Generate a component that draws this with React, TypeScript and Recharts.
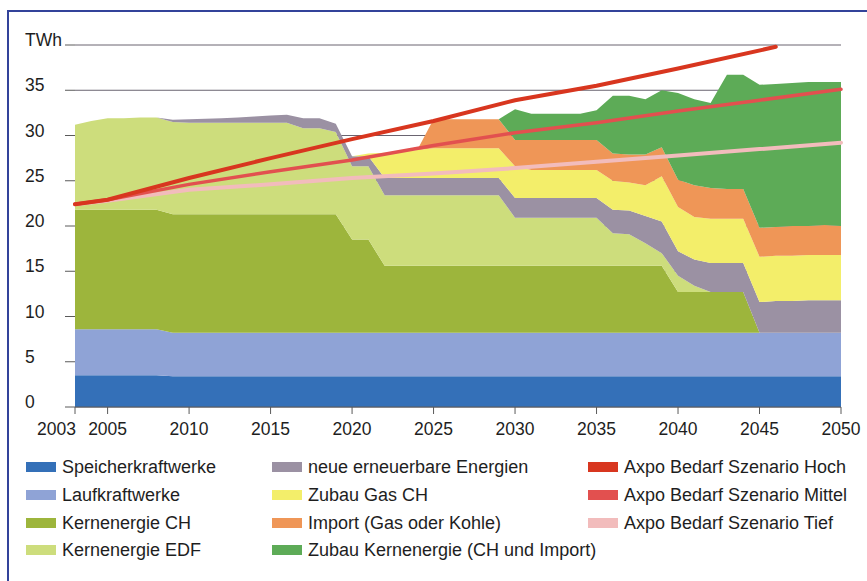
import React from "react";
import {
  ComposedChart,
  Area,
  Line,
  XAxis,
  YAxis,
  CartesianGrid,
} from "recharts";

// years on the x axis, one row per year
const years = Array.from({ length: 48 }, (_, i) => 2003 + i);
const xTicks = [2003, 2005, 2010, 2015, 2020, 2025, 2030, 2035, 2040, 2045, 2050];
const yTicks = [0, 5, 10, 15, 20, 25, 30, 35, 40];

// stacked layers in TWh (thickness of each band), 2003..2050
const speicher = [
  3.5, 3.5, 3.5, 3.5, 3.5, 3.5, 3.4, 3.4, 3.4, 3.4, // 2003-2012
  3.4, 3.4, 3.4, 3.4, 3.4, 3.4, 3.4, 3.4, 3.4, 3.4, // 2013-2022
  3.4, 3.4, 3.4, 3.4, 3.4, 3.4, 3.4, 3.4, 3.4, 3.4, // 2023-2032
  3.4, 3.4, 3.4, 3.4, 3.4, 3.4, 3.4, 3.4, 3.4, 3.4, // 2033-2042
  3.4, 3.4, 3.4, 3.4, 3.4, 3.4, 3.4, 3.4, // 2043-2050
];
const lauf = [
  5.1, 5.1, 5.1, 5.1, 5.1, 5.1, 4.8, 4.8, 4.8, 4.8,
  4.8, 4.8, 4.8, 4.8, 4.8, 4.8, 4.8, 4.8, 4.8, 4.8,
  4.8, 4.8, 4.8, 4.8, 4.8, 4.8, 4.8, 4.8, 4.8, 4.8,
  4.8, 4.8, 4.8, 4.8, 4.8, 4.8, 4.8, 4.8, 4.8, 4.8,
  4.8, 4.8, 4.8, 4.8, 4.8, 4.8, 4.8, 4.8,
];
const kernCH = [
  13.2, 13.2, 13.2, 13.2, 13.2, 13.2, 13.1, 13.1, 13.1, 13.1,
  13.1, 13.1, 13.1, 13.1, 13.1, 13.1, 13.1, 10.3, 10.3, 7.4,
  7.4, 7.4, 7.4, 7.4, 7.4, 7.4, 7.4, 7.4, 7.4, 7.4,
  7.4, 7.4, 7.4, 7.4, 7.4, 7.4, 7.4, 4.5, 4.5, 4.5,
  4.5, 4.5, 0, 0, 0, 0, 0, 0,
];
const kernEDF = [
  9.4, 9.8, 10.1, 10.1, 10.2, 10.2, 10.2, 10.1, 10.1, 10.1,
  10.1, 10.1, 10.1, 10.1, 9.5, 9.5, 9.1, 8.1, 8.1, 7.8,
  7.8, 7.8, 7.8, 7.8, 7.8, 7.8, 7.8, 5.3, 5.3, 5.3,
  5.3, 5.3, 5.3, 3.6, 3.5, 2.5, 1.4, 1.8, 0.7, 0,
  0, 0, 0, 0, 0, 0, 0, 0,
];
const neueErneuerbare = [
  0, 0, 0, 0, 0, 0, 0.25, 0.4, 0.45, 0.5,
  0.6, 0.7, 0.8, 0.9, 1.1, 1.1, 0.9, 1.1, 1.1, 1.9,
  1.9, 1.9, 1.9, 1.9, 1.9, 1.9, 1.9, 2.2, 2.2, 2.2,
  2.2, 2.2, 2.2, 2.6, 2.6, 3.0, 3.5, 2.7, 2.9, 3.2,
  3.2, 3.2, 3.4, 3.5, 3.5, 3.6, 3.6, 3.6,
];
const zubauGas = [
  0, 0, 0, 0, 0, 0, 0, 0, 0, 0,
  0, 0, 0, 0, 0, 0, 0, 0, 0.3, 2.8,
  2.9, 3.1, 3.3, 3.3, 3.3, 3.3, 3.3, 3.5, 3.1, 3.1,
  3.1, 3.1, 3.1, 3.2, 3.1, 3.4, 5.0, 4.9, 4.7, 4.9,
  4.9, 4.9, 5.0, 5.0, 5.0, 5.0, 5.0, 5.0,
];
const importGasKohle = [
  0, 0, 0, 0, 0, 0, 0, 0, 0, 0,
  0, 0, 0, 0, 0, 0, 0, 0, 0, 0,
  0, 0, 3.2, 3.2, 3.2, 3.2, 3.2, 2.9, 3.3, 3.3,
  3.3, 3.3, 3.3, 3.0, 3.1, 3.4, 3.2, 3.0, 3.5, 3.4,
  3.3, 3.3, 3.2, 3.2, 3.3, 3.2, 3.3, 3.2,
];
const zubauKern = [
  0, 0, 0, 0, 0, 0, 0, 0, 0, 0,
  0, 0, 0, 0, 0, 0, 0, 0, 0, 0,
  0, 0, 0, 0, 0, 0, 0, 3.4, 2.9, 2.9,
  2.9, 2.9, 3.3, 6.4, 6.5, 6.1, 6.3, 9.6, 9.5, 9.4,
  12.6, 12.6, 15.8, 15.8, 15.8, 15.9, 15.8, 15.9,
];

// demand scenarios (read at the kinks of each line)
const hochYears = [2003, 2005, 2010, 2015, 2020, 2025, 2030, 2035, 2040, 2046];
const hochValues = [22.4, 22.9, 25.3, 27.5, 29.6, 31.6, 33.9, 35.5, 37.4, 39.8];
const scenYears = [2003, 2005, 2010, 2015, 2020, 2025, 2030, 2035, 2040, 2045, 2050];
const mittelValues = [22.4, 22.9, 24.6, 26.0, 27.3, 28.9, 30.3, 31.4, 32.7, 33.9, 35.1];
const tiefValues = [22.4, 22.8, 24.0, 24.6, 25.3, 25.8, 26.4, 27.1, 27.8, 28.5, 29.2];

const areas = [
  { key: "speicher", name: "Speicherkraftwerke", color: "#3470b8", values: speicher },
  { key: "lauf", name: "Laufkraftwerke", color: "#8fa3d6", values: lauf },
  { key: "kernCH", name: "Kernenergie CH", color: "#9db53c", values: kernCH },
  { key: "kernEDF", name: "Kernenergie EDF", color: "#cddd7c", values: kernEDF },
  { key: "neue", name: "neue erneuerbare Energien", color: "#9b91a3", values: neueErneuerbare },
  { key: "gas", name: "Zubau Gas CH", color: "#f3ee6a", values: zubauGas },
  { key: "import", name: "Import (Gas oder Kohle)", color: "#ef9657", values: importGasKohle },
  { key: "zubauKern", name: "Zubau Kernenergie (CH und Import)", color: "#5dab57", values: zubauKern },
];

const lines = [
  { key: "tief", name: "Axpo Bedarf Szenario Tief", color: "#f2bcbc", width: 4, xs: scenYears, values: tiefValues },
  { key: "mittel", name: "Axpo Bedarf Szenario Mittel", color: "#e2504f", width: 3.5, xs: scenYears, values: mittelValues },
  { key: "hoch", name: "Axpo Bedarf Szenario Hoch", color: "#d8361f", width: 4, xs: hochYears, values: hochValues },
];

const data = years.map((year, i) => {
  const row: any = { year };
  areas.forEach((a) => (row[a.key] = a.values[i]));
  lines.forEach((l) => {
    const j = l.xs.indexOf(year);
    row[l.key] = j >= 0 ? l.values[j] : null;
  });
  return row;
});

// legend order: three columns as in the print
const legendEntries = [...areas, lines[2], lines[1], lines[0]];

const FONT = "'Liberation Sans', Arial, sans-serif";
const TEXT = "#1e1e1e";

function XTick(props: any) {
  const { x, y, payload } = props;
  const first = payload.value === 2003;
  return (
    <text
      x={first ? x + 1 : x}
      y={y}
      dy={19}
      textAnchor={first ? "end" : "middle"}
      fontSize={17.5}
      fontFamily={FONT}
      fill={TEXT}
    >
      {payload.value}
    </text>
  );
}

function YTick(props: any) {
  const { y, payload } = props;
  return (
    <text x={25} y={y} dy={1} textAnchor="start" fontSize={17.5} fontFamily={FONT} fill={TEXT}>
      {payload.value === 40 ? "TWh" : payload.value}
    </text>
  );
}

export default function App() {
  const legendX = [26, 272, 588];
  const legendY = [467, 495, 523, 550];
  return (
    <div
      style={{
        position: "absolute",
        left: 0,
        top: 0,
        width: 867,
        height: 581,
        overflow: "hidden",
        background: "#ffffff",
        fontFamily: FONT,
      }}
    >
      <div
        style={{
          position: "absolute",
          left: 7,
          top: 10,
          width: 900,
          height: 600,
          borderTop: "2px solid #33439a",
          borderLeft: "2px solid #33439a",
        }}
      />
      <div style={{ position: "absolute", left: 0, top: 0 }}>
        <ComposedChart
          width={867}
          height={581}
          data={data}
          margin={{ top: 45, right: 0, bottom: 144, left: 0 }}
        >
          <CartesianGrid vertical={false} stroke="#6a6470" strokeWidth={1} />
          <XAxis
            dataKey="year"
            type="number"
            domain={[2003, 2050]}
            ticks={xTicks}
            interval={0}
            height={30}
            tickSize={7}
            tickMargin={2}
            stroke="#5a5a5a"
            tick={<XTick />}
          />
          <YAxis
            type="number"
            domain={[0, 40]}
            ticks={yTicks}
            interval={0}
            width={75}
            tickSize={10}
            axisLine={false}
            stroke="#5a5a5a"
            tick={<YTick />}
          />
          <YAxis
            yAxisId="right"
            orientation="right"
            type="number"
            domain={[0, 40]}
            ticks={yTicks}
            interval={0}
            width={26}
            tickSize={7}
            axisLine={false}
            stroke="#5a5a5a"
            tick={false}
          />
          {areas.map((a) => (
            <Area
              key={a.key}
              type="linear"
              dataKey={a.key}
              name={a.name}
              stackId="mix"
              stroke="none"
              fill={a.color}
              fillOpacity={1}
              isAnimationActive={false}
            />
          ))}
          {lines.map((l) => (
            <Line
              key={l.key}
              type="linear"
              dataKey={l.key}
              name={l.name}
              stroke={l.color}
              strokeWidth={l.width}
              strokeLinecap="round"
              dot={false}
              connectNulls
              isAnimationActive={false}
            />
          ))}
        </ComposedChart>
      </div>
      {legendEntries.map((e, i) => {
        const col = Math.floor(i / 4);
        const row = i % 4;
        return (
          <div
            key={e.key}
            style={{
              position: "absolute",
              left: legendX[col],
              top: legendY[row] - 12,
              height: 24,
              display: "flex",
              alignItems: "center",
              fontSize: 18,
              color: TEXT,
              whiteSpace: "nowrap",
            }}
          >
            <span
              style={{
                display: "inline-block",
                width: 30,
                height: 10,
                background: e.color,
                marginRight: 6,
              }}
            />
            <span>{e.name}</span>
          </div>
        );
      })}
    </div>
  );
}
